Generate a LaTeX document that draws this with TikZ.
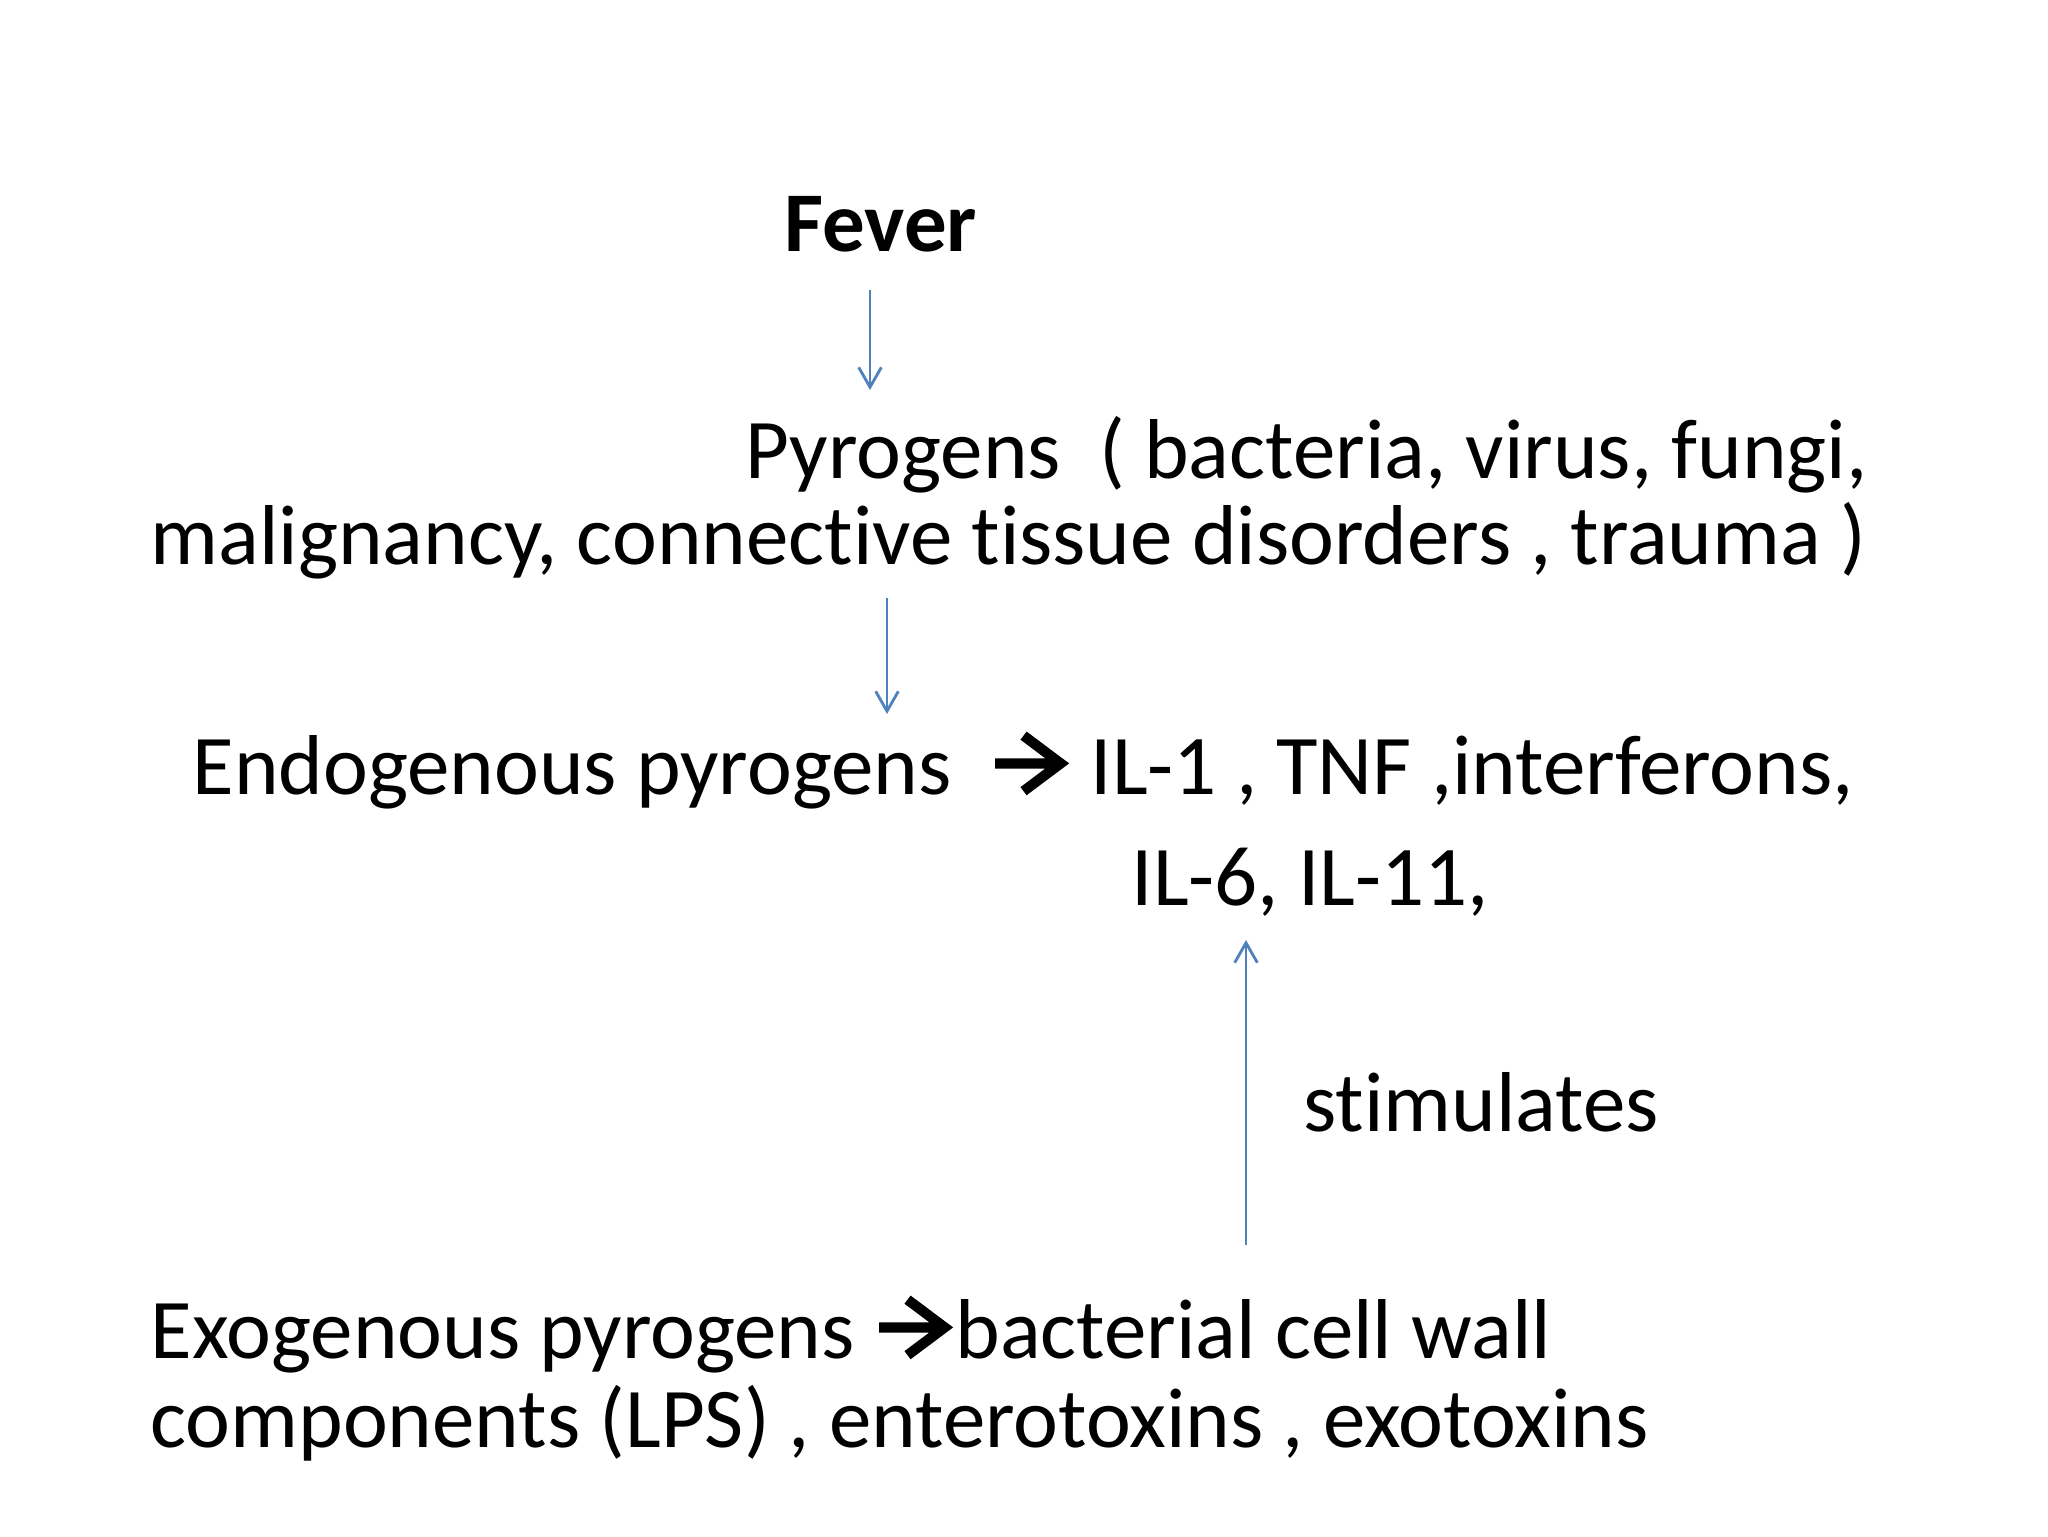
\documentclass[tikz,border=0pt]{standalone}
\usepackage{fontspec}
\setmainfont{Carlito}[Ligatures={NoCommon}]
\usetikzlibrary{arrows.meta}
\definecolor{arrowblue}{RGB}{79,129,189}
\newcommand{\rarr}{\tikz[baseline=0pt,x=1pt,y=1pt]{\draw[line width=3.6pt,line join=miter,line cap=butt,black] (0.5,10.8) -- (23,10.8) (10.5,20.6) -- (23.6,10.8) -- (10.5,1);}\hspace{2pt}}
\begin{document}
\begin{tikzpicture}[x=0.01240234cm,y=-0.01240234cm,
  txt/.style={inner sep=0pt,font=\fontsize{30}{36}\selectfont},
  conn/.style={draw=arrowblue,line width=1pt,-{Straight Barb[length=7pt,width=8pt,line width=1pt]}}]
\useasboundingbox[fill=white] (0,0) rectangle (2048,1536);
\node[txt,anchor=base west,font=\fontsize{30}{36}\selectfont\bfseries] (fever) at (784,251) {Fever};
\coordinate (a1s) at (870,290);
\coordinate (a1e) at (870,390);
\node[txt,anchor=base east] (pyro1) at (1868,478) {Pyrogens \ ( bacteria, virus, fungi,};
\node[txt,anchor=base west] (pyro2) at (150,564) {malignancy, connective tissue disorders , trauma )};
\coordinate (a2s) at (887,598);
\coordinate (a2e) at (887,714);
\node[txt,anchor=base west] (endo) at (192,794) {Endogenous pyrogens \ \rarr\ IL-1 , TNF ,interferons,};
\node[txt,anchor=base west] (il6) at (1131,905) {IL-6, IL-11,};
\coordinate (a3s) at (1246,1245);
\coordinate (a3e) at (1246,940);
\node[txt,anchor=base west] (stim) at (1303,1131) {stimulates};
\node[txt,anchor=base west] (exo1) at (150,1358) {Exogenous pyrogens \rarr bacterial cell wall};
\node[txt,anchor=base west] (exo2) at (150,1447) {components (LPS) , enterotoxins , exotoxins};
\draw[conn] (a1s) -- (a1e);
\draw[conn] (a2s) -- (a2e);
\draw[conn] (a3s) -- (a3e);
\end{tikzpicture}
\end{document}
